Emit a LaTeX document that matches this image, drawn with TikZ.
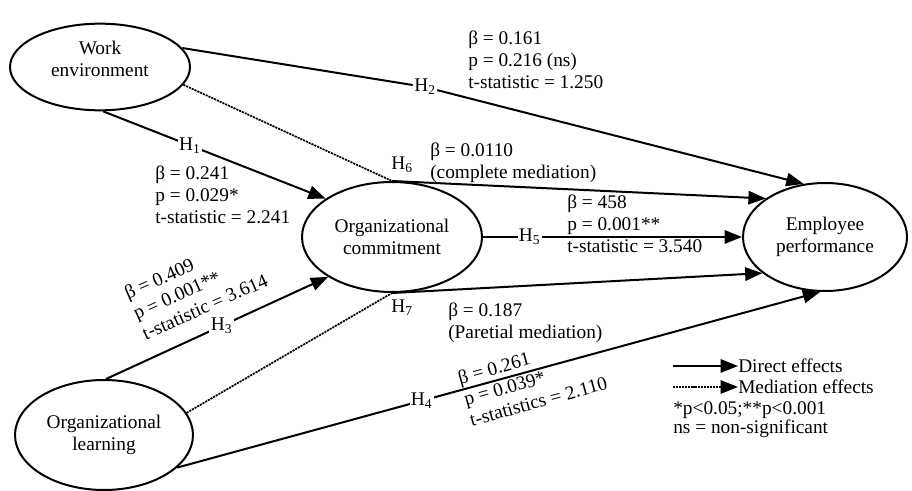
\documentclass[tikz,border=0pt]{standalone}
\usepackage{fontspec}
\setmainfont{Liberation Serif}
\usetikzlibrary{shapes.geometric, arrows.meta, positioning}

\begin{document}
\begin{tikzpicture}[
    x=0.75pt, y=-0.75pt,
    font=\fontsize{14.5}{16.5}\selectfont,
    construct/.style={ellipse, draw, line width=1.5pt, align=center, inner sep=0pt},
    direct/.style={-{Triangle[length=13pt, width=10pt]}, line width=1.5pt},
    plain/.style={line width=1.5pt},
    mediation/.style={line width=1.3pt, dash pattern=on 1.6pt off 0.7pt},
    hyp/.style={fill=white, inner sep=1pt},
    stat/.style={align=left, inner sep=0pt},
]

\useasboundingbox (0,0) rectangle (912,491);

% constructs
\node[construct, minimum width=135pt,   minimum height=65pt]   (work)   at (100,67)  {Work\\environment\\[-4pt]};
\node[construct, minimum width=135pt,   minimum height=82.5pt] (commit) at (392,237) {Organizational\\commitment};
\node[construct, minimum width=123pt,   minimum height=81pt]   (perf)   at (825,237) {Employee\\performance};
\node[construct, minimum width=133.5pt, minimum height=82.5pt] (learn)  at (104,435) {Organizational\\learning};

% direct paths
\draw[direct] (work.-86) -- node[hyp, pos=0.39] {H\textsubscript{1}} (commit.150);
\node[hyp] (h2) at (425,87) {H\textsubscript{2}};
\draw[plain]  (work.13) -- (h2);
\draw[direct] (h2) -- (perf.112);
\draw[direct] (learn.88) -- node[hyp, pos=0.52] {H\textsubscript{3}} (commit.212);
\draw[direct] (learn.-24) -- node[hyp, pos=0.38] {H\textsubscript{4}} (perf.265);
\draw[direct] (commit.east) -- node[hyp, pos=0.18] {H\textsubscript{5}} (perf.west);

% mediation paths
\draw[mediation] (work.-12) -- (commit.90);
\draw[direct]    (commit.90) -- (perf.147);
\node (h6) at (402,165) {H\textsubscript{6}};
\draw[mediation] (learn.15) -- (commit.270);
\draw[direct]    (commit.270) -- (perf.210);
\node (h7) at (402,308) {H\textsubscript{7}};

% path statistics
\node[stat, anchor=north west] (s1) at (155,165.5) {β = 0.241\\p = 0.029*\\t-statistic = 2.241};
\node[stat, anchor=north west] (s2) at (468,30.5)  {β = 0.161\\p = 0.216 (ns)\\t-statistic = 1.250};
\node[stat, anchor=west, rotate=24] (s3) at (134,314) {β = 0.409\\p = 0.001**\\t-statistic = 3.614};
\node[stat, anchor=west, rotate=15.5] (s4) at (464,399) {β = 0.261\\p = 0.039*\\t-statistics = 2.110};
\node[stat, anchor=north west] (s5) at (567,194.5) {β = 458\\p = 0.001**\\t-statistic = 3.540};
\node[stat, anchor=north west] (s6) at (430,142.5) {β = 0.0110\\(complete mediation)};
\node[stat, anchor=north west] (s7) at (448,302.5) {β = 0.187\\(Paretial mediation)};

% legend
\coordinate (dstart) at (673,366);
\node[anchor=west, inner sep=0pt] (ldirect) at (738,366) {Direct effects};
\draw[direct] (dstart) -- (ldirect.west);
\coordinate (mstart) at (673,387);
\node[anchor=west, inner sep=0pt] (lmed) at (738,387) {Mediation effects};
\draw[mediation, -{Triangle[length=13pt, width=10pt]}] (mstart) -- (lmed.west);
\node[anchor=west, inner sep=0pt] (lsig) at (673,410) {*p<0.05;**p<0.001};
\node[anchor=west, inner sep=0pt] (lns)  at (673,429) {ns = non-significant};

\end{tikzpicture}
\end{document}
